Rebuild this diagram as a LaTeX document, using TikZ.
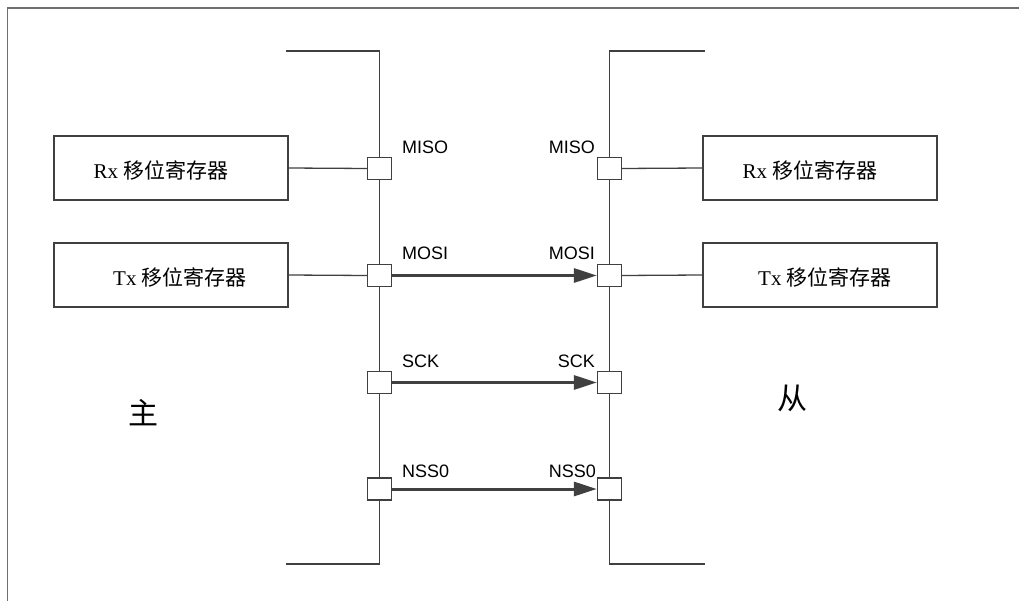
\documentclass[tikz,border=0pt]{standalone}
\usepackage{fontspec}
\setmainfont{Liberation Serif}
\newfontfamily\cjk{Noto Sans CJK SC}
\newfontfamily\arialf{Liberation Sans}
\usetikzlibrary{arrows.meta}
\definecolor{linec}{HTML}{404040}
\definecolor{framec}{HTML}{707070}
\begin{document}
\begin{tikzpicture}[x=1pt,y=-1pt,
  line/.style={draw=linec,line width=1.3pt},
  regbox/.style={draw=linec,line width=1.3pt,fill=white,minimum width=234pt,minimum height=64pt,inner sep=0pt},
  regtxt/.style={inner sep=0pt,font=\fontsize{21}{25}\selectfont},
  pin/.style={draw=linec,line width=1.3pt,fill=white,minimum width=24pt,minimum height=22pt,inner sep=0pt},
  sig/.style={inner sep=0pt,font=\arialf\fontsize{18}{21}\selectfont},
  bus/.style={draw=linec,line width=3pt,-{Triangle[length=23pt,width=14pt]}},
  side/.style={inner sep=0pt,font=\cjk\fontsize{30}{34}\selectfont}]
\useasboundingbox (0,0) rectangle (1019,601);
% frame
\draw[draw=framec,line width=1.3pt] (7.5,601) -- (7.5,8) -- (1019,8);
% brackets
\draw[line] (286,51) -- (379.5,51) -- (379.5,564) -- (286,564);
\draw[line] (705,51) -- (609.5,51) -- (609.5,564) -- (705,564);
% register boxes
\node[regbox] (lrx) at (171,168) {};
\node[regbox] (ltx) at (171,275) {};
\node[regbox] (rrx) at (820,168) {};
\node[regbox] (rtx) at (820,275) {};
\node[regtxt] (lrxt) at (161,170) {Rx {\cjk 移位寄存器}};
\node[regtxt] (ltxt) at (180,277) {Tx {\cjk 移位寄存器}};
\node[regtxt] (rrxt) at (810,170) {Rx {\cjk 移位寄存器}};
\node[regtxt] (rtxt) at (825,277) {Tx {\cjk 移位寄存器}};
% pins
\node[pin] (mmiso) at (379.5,168.5) {};
\node[pin] (mmosi) at (379.5,275.5) {};
\node[pin] (msck)  at (379.5,382.5) {};
\node[pin] (mnss)  at (379.5,489) {};
\node[pin] (smiso) at (609.5,168.5) {};
\node[pin] (smosi) at (609.5,275.5) {};
\node[pin] (ssck)  at (609.5,382.5) {};
\node[pin] (snss)  at (609.5,489) {};
% box-to-pin lines
\draw[line] (lrx.east) -- (mmiso.west);
\draw[line] (ltx.east) -- (mmosi.west);
\draw[line] (smiso.east) -- (rrx.west);
\draw[line] (smosi.east) -- (rtx.west);
% bus arrows
\draw[bus] (mmosi.east) -- (smosi.west);
\draw[bus] (msck.east) -- (ssck.west);
\draw[bus] (mnss.east) -- (snss.west);
% signal labels
\node[sig,anchor=base west] (lmiso) at (402,154) {MISO};
\node[sig,anchor=base west] (lmosi) at (402,260) {MOSI};
\node[sig,anchor=base west] (lsck)  at (402,367) {SCK};
\node[sig,anchor=base west] (lnss)  at (402,477) {NSS0};
\node[sig,anchor=base east] (rmiso) at (595,154) {MISO};
\node[sig,anchor=base east] (rmosi) at (595,260) {MOSI};
\node[sig,anchor=base east] (rsck)  at (595,367) {SCK};
\node[sig,anchor=base east] (rnss)  at (596,477) {NSS0};
% sides
\node[side] (master) at (143,413) {主};
\node[side] (slave) at (792,398) {从};
\end{tikzpicture}
\end{document}
